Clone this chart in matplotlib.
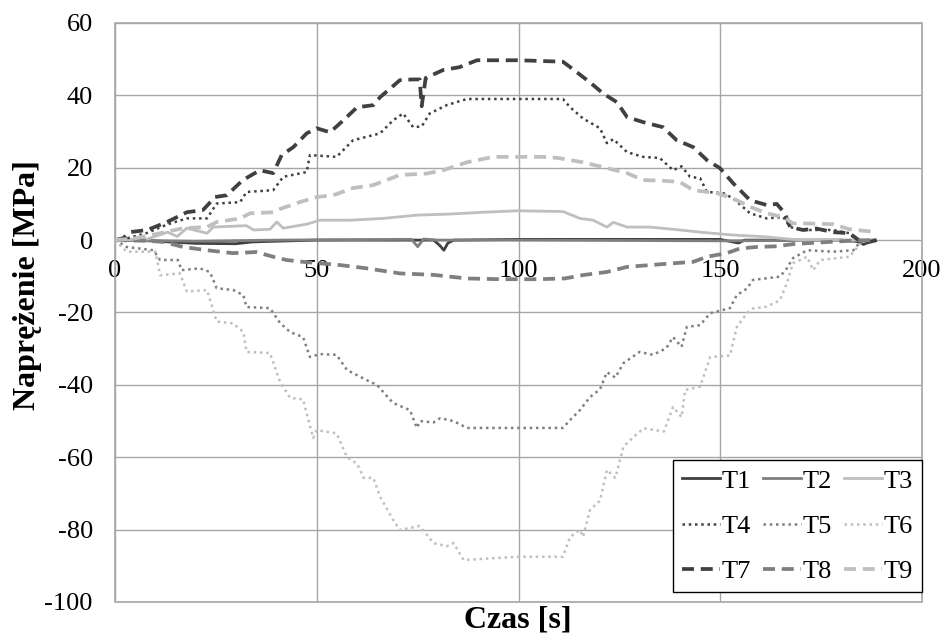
import numpy as np
import matplotlib.pyplot as plt
import matplotlib.patches as mpatches

plt.rcParams.update({
    "font.family": ["Liberation Serif", "DejaVu Serif"],
    "font.size": 19,
    "axes.unicode_minus": False,
})

# ── dane: czas [s] / naprężenie [MPa] ────────────────────────────────
t1_x = [0, 5, 10, 15, 20, 30, 34, 40, 50, 60, 70, 79, 80.5, 81.5, 82.5, 84, 100, 150, 153.5, 154.5, 156, 180, 184, 185.5, 188]
t1_y = [0, 0, -0.3, -0.6, -0.9, -1.0, -0.5, -0.3, 0, 0, 0, 0, -1.5, -2.8, -0.8, 0, 0.2, 0.2, -0.6, -0.8, 0, 0, -0.4, -1.2, 0]

t2_x = [0, 20, 40, 70, 73.5, 75, 76.5, 80, 100, 150, 188]
t2_y = [0, -0.3, 0, 0.2, 0.2, -1.8, 0.3, 0, 0, -0.2, 0]

t3_x = [0, 8, 11, 13, 15.4, 17.8, 22.8, 24.4, 32.6, 34.3, 38.4, 40.1, 41.7, 47.5, 50.8, 58.2, 66.5,
        74.8, 83, 91.2, 99.6, 111, 115.2, 118.5, 121.9, 123.5, 126.9, 132.6, 140, 145, 153.2, 161.5, 169.7, 188]
t3_y = [0, 0.3, 1.4, 2.2, 1.0, 3.3, 1.9, 3.6, 4.0, 2.8, 3.0, 5.0, 3.3, 4.4, 5.5, 5.5, 6.0,
        6.9, 7.2, 7.7, 8.1, 7.9, 6.0, 5.5, 3.6, 4.9, 3.6, 3.6, 2.8, 2.2, 1.4, 0.9, 0, 0]

t4_x = [0, 3, 8, 12.9, 17.8, 22.8, 25.2, 31, 32.6, 39.2, 41.7, 47.5, 48.3, 54.9, 59, 65.7, 68.9, 71.4,
        73.9, 76, 78, 82.2, 87.2, 100, 111, 112.8, 116, 120.2, 121.9, 123.5, 126.9, 130.9, 135,
        138.3, 140.4, 142.5, 145, 146.7, 150.7, 153.2, 157.4, 161.5, 165.6, 167.3, 170.5, 178, 182, 183.7]
t4_y = [0, 0.5, 2.0, 4.3, 6.0, 6.0, 10.1, 10.5, 13.3, 13.8, 17.5, 18.8, 23.5, 23.0, 27.6, 29.5, 33.1, 35.0,
        31.2, 31.4, 35.0, 37.3, 39.0, 39.0, 39.0, 36.7, 33.6, 30.9, 26.8, 27.9, 24.3, 23.0, 22.7,
        19.3, 20.4, 17.5, 17.1, 13.3, 13.0, 11.5, 7.4, 6.0, 6.4, 3.6, 2.8, 2.8, 1.9, 0]

t5_x = [0, 2.9, 9.5, 11.2, 15.6, 16.5, 21, 23.5, 25.2, 29.3, 31.8, 32.6, 38.4, 40.9, 43.4, 46.6, 48.3,
        50.8, 54.9, 57.5, 62.4, 64.9, 68.9, 73.1, 74.8, 75.6, 78.9, 80.6, 83.9, 87.2, 100, 111,
        112.8, 115.2, 117.7, 120.2, 121.9, 124, 126, 130, 133.3, 136.6, 138.3, 140.4, 141.7, 145,
        147.5, 152.4, 154.1, 156.6, 158.1, 164.8, 166.5, 168, 171.5, 178, 183, 184.7, 186]
t5_y = [0, -1.9, -2.8, -5.5, -5.5, -8.3, -7.8, -8.8, -13.3, -13.8, -15.2, -18.5, -18.8, -22.9, -25.4, -26.8, -32.3,
        -31.5, -31.7, -35.9, -38.7, -40.0, -45.0, -47.0, -51.9, -50.0, -50.4, -49.2, -50.0, -51.9, -51.9, -51.9,
        -49.7, -47.0, -43.4, -41.2, -36.5, -38.0, -34.0, -30.9, -31.7, -29.9, -26.8, -29.5, -24.0, -23.5,
        -20.2, -18.8, -15.2, -13.4, -11.0, -10.1, -7.8, -5.0, -2.8, -3.2, -2.8, -0.5, 0]

t6_x = [0, 2.9, 10, 11.2, 16.1, 17.8, 22.8, 25.2, 29.3, 31.8, 32.6, 38.4, 40.9, 43.4, 46.6, 49.1, 50,
        54.9, 57.5, 60, 61.6, 64, 65.7, 68.9, 70.6, 75.5, 78.9, 82.2, 83.9, 86.4, 100, 111,
        112.8, 115.2, 116, 117.7, 120.2, 121.9, 124, 126, 128.6, 131, 136, 138.3, 140.4, 141.3, 145,
        147.5, 152.4, 154.1, 156.6, 158.1, 161.5, 164.8, 166.5, 168, 171.5, 173, 174.8, 182, 184.7, 186]
t6_y = [0, -3.2, -3.2, -9.7, -9.2, -14.2, -13.8, -22.5, -23.0, -25.4, -30.9, -31.2, -39.2, -43.6, -44.0, -54.7, -52.5,
        -53.4, -60.0, -61.8, -65.7, -65.7, -70.9, -77.3, -80.1, -79.0, -83.7, -84.6, -83.7, -88.4, -87.5, -87.5,
        -82.0, -80.1, -82.0, -74.6, -72.0, -63.5, -65.7, -57.1, -54.3, -52.0, -52.9, -46.1, -48.9, -41.4, -40.5,
        -32.3, -31.9, -24.0, -20.2, -18.9, -18.4, -16.6, -11.9, -6.4, -4.6, -8.3, -5.5, -4.6, -1.0, 0]

t7_x = [0, 2, 3.7, 8, 12.9, 17.8, 21.8, 24.8, 27.7, 31.7, 35.9, 39.2, 41.3, 44.2, 47.5, 50, 53.3, 55.8,
        60, 64, 65.7, 68.2, 70.6, 73.7, 75.5, 76, 76.5, 77, 81.3, 85.4, 89.7, 100, 111,
        112.8, 117.7, 121, 124.4, 126.9, 130.9, 135.8, 139.2, 143.3, 146.7, 149.9, 153.2, 157.4,
        161.5, 164, 166, 167.3, 170.5, 173.8, 178, 182, 185.4, 188.8]
t7_y = [0, 0.5, 2.2, 2.8, 5.0, 7.7, 8.3, 11.9, 12.4, 16.6, 19.3, 18.5, 23.5, 25.7, 29.5, 30.9, 29.8, 32.3,
        36.7, 37.3, 39.5, 41.9, 44.2, 44.4, 44.4, 37.0, 41.0, 44.8, 47.0, 47.8, 49.7, 49.7, 49.3,
        47.8, 43.6, 40.5, 38.1, 34.0, 32.6, 31.2, 27.6, 25.7, 22.1, 19.9, 15.7, 11.0,
        9.7, 10.0, 7.4, 3.6, 2.8, 3.2, 2.2, 1.9, -0.9, 0]

t8_x = [0, 8, 12, 16.9, 22.8, 29.2, 35, 39.2, 42.5, 46.6, 55.8, 62.4, 70.6, 78.9, 87.2, 95.4, 105,
        111.4, 116.4, 121.9, 126.9, 132.6, 138.3, 143.3, 146.7, 151.6, 154.9, 159, 164, 168, 173.8, 182, 188.8]
t8_y = [0, -0.2, -0.5, -1.9, -2.8, -3.6, -3.3, -4.6, -5.5, -6.0, -6.9, -7.8, -9.2, -9.6, -10.6, -10.8, -10.8,
        -10.6, -9.6, -8.8, -7.4, -6.9, -6.4, -6.0, -4.6, -3.6, -2.3, -1.9, -1.7, -1.1, -0.7, -0.2, 0]

t9_x = [0, 5, 11.2, 16.9, 22.8, 25.2, 31, 33.5, 39.2, 40.9, 45.8, 50, 54.1, 59, 64, 70.6, 77.3, 81.3,
        87.2, 93.7, 100, 106, 109.8, 116, 121.9, 126.9, 130.9, 135.8, 139.9, 143.3, 149.1, 153.2,
        157.4, 161.5, 165.6, 168, 172.1, 178, 182, 188.8]
t9_y = [0, 0.5, 1.9, 3.3, 3.6, 5.0, 6.0, 7.4, 7.7, 8.6, 10.5, 11.9, 12.4, 14.4, 15.2, 18.0, 18.4, 19.3,
        21.5, 23.0, 23.0, 23.0, 22.7, 21.5, 19.9, 18.5, 16.6, 16.4, 16.1, 13.8, 13.0, 11.5,
        9.2, 7.4, 6.4, 4.6, 4.6, 4.4, 3.0, 2.2]

labels = ["T1", "T2", "T3", "T4", "T5", "T6", "T7", "T8", "T9"]
series = [(t1_x, t1_y), (t2_x, t2_y), (t3_x, t3_y),
          (t4_x, t4_y), (t5_x, t5_y), (t6_x, t6_y),
          (t7_x, t7_y), (t8_x, t8_y), (t9_x, t9_y)]

# odcienie szarości i style linii (jak w Excelu)
DARK, MID, LIGHT = "#404040", "#7f7f7f", "#bfbfbf"
colors = [DARK, MID, LIGHT] * 3
styles = [("-", 2.0)] * 3 + [((0, (1, 1.5)), 1.8)] * 3 + [((0, (3.2, 1.8)), 2.7)] * 3

fig = plt.figure(figsize=(9.45, 6.35), dpi=100)
ax = fig.add_axes([0.1217, 0.052, 0.854, 0.9118])

handles = []
for (x, y), lab, c, (ls, lw) in zip(series, labels, colors, styles):
    h, = ax.plot(x, y, color=c, linestyle=ls, linewidth=lw, label=lab, zorder=3)
    handles.append(h)

ax.set_xlim(0, 200)
ax.set_ylim(-100, 60)
ax.set_xticks(np.arange(0, 201, 50))
ax.set_yticks(np.arange(-100, 61, 20))
ax.grid(True, color="#a6a6a6", linewidth=1.0, zorder=0)
ax.set_axisbelow(True)

# oś pozioma przecina oś pionową w 0
for s in ["top", "right", "left"]:
    ax.spines[s].set_visible(False)
ax.spines["bottom"].set_position(("data", 0))
ax.spines["bottom"].set_visible(False)
ax.tick_params(axis="both", length=0, labelsize=19)
ax.tick_params(axis="x", pad=14)
ax.tick_params(axis="y", pad=16)
ax.add_patch(mpatches.Rectangle((0, 0), 1, 1, transform=ax.transAxes, fill=False,
                                edgecolor="#a6a6a6", linewidth=1.2, clip_on=False, zorder=1))

fig.text(0.0286, 0.551, "Naprężenie [MPa]", fontsize=23, fontweight="bold",
         rotation=90, ha="center", va="center")
fig.text(0.5476, 0.0236, "Czas [s]", fontsize=23, fontweight="bold", ha="center", va="center")

# legenda 3 kolumny, wiersz po wierszu
order = [0, 3, 6, 1, 4, 7, 2, 5, 8]
leg = ax.legend([handles[i] for i in order], [labels[i] for i in order], ncol=3,
                loc="lower right", bbox_to_anchor=(1.0, 0.017), fontsize=19,
                handlelength=1.45, handletextpad=0.05, columnspacing=0.45,
                labelspacing=0.82, borderpad=0.35, borderaxespad=0.0,
                fancybox=False, framealpha=1)
leg.get_frame().set_edgecolor("black")
leg.get_frame().set_linewidth(1.0)

plt.savefig("out.png", dpi=100)
